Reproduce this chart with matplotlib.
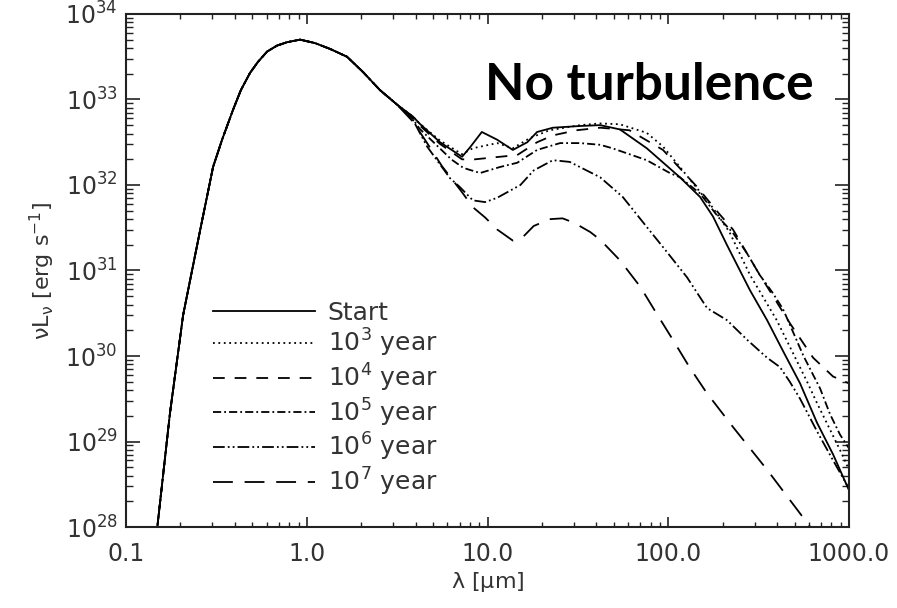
import matplotlib
matplotlib.use("Agg")
import matplotlib.pyplot as plt
import numpy as np

plt.rcParams['font.family'] = 'DejaVu Sans'
plt.rcParams['mathtext.fontset'] = 'dejavusans'
plt.rcParams['mathtext.default'] = 'regular'

# wavelength in micron, luminosity as log10(nu L_nu / erg s^-1)
# stellar part shared by every model
wav_common = [0.147, 0.149, 0.175, 0.207, 0.257, 0.303, 0.340, 0.391, 0.432,
              0.485, 0.537, 0.603, 0.684, 0.778, 0.918, 1.11, 1.35, 1.67,
              2.05, 2.54, 3.16]
lum_common = [27.85, 28.0, 29.33, 30.48, 31.47, 32.21, 32.53, 32.88, 33.11,
              33.31, 33.44, 33.56, 33.63, 33.67, 33.70, 33.66, 33.59, 33.50,
              33.32, 33.11, 32.94]

wav_start = [3.87, 4.2, 5.46, 7.23, 8.0, 9.3, 11.3, 13.8, 16.6, 18.8, 23, 32.5,
             42, 54, 76, 116, 150, 177, 211, 283, 352, 431, 536, 665, 816, 1000]
lum_start = [32.80, 32.72, 32.50, 32.33, 32.44, 32.62, 32.53, 32.41, 32.50,
             32.62, 32.67, 32.69, 32.70, 32.65, 32.43, 32.09, 31.86, 31.63,
             31.30, 30.77, 30.42, 30.06, 29.68, 29.22, 28.85, 28.43]

wav_1e3 = [3.87, 4.2, 5.46, 7.23, 8.3, 11.3, 13.8, 17.2, 22, 32.5, 42, 54, 76,
           93.5, 116, 177, 218, 283, 398, 586, 665, 892, 1000]
lum_1e3 = [32.80, 32.72, 32.52, 32.36, 32.43, 32.49, 32.43, 32.55, 32.64,
           32.70, 32.72, 32.71, 32.61, 32.45, 32.21, 31.73, 31.45, 30.95,
           30.42, 29.70, 29.45, 28.90, 28.67]

wav_1e4 = [3.87, 4.2, 5.46, 7.23, 8.5, 11.7, 14.6, 18.8, 23, 31, 42, 61, 93.5,
           144, 190, 228, 310, 472, 633, 816, 1000]
lum_1e4 = [32.79, 32.70, 32.48, 32.30, 32.30, 32.33, 32.35, 32.50, 32.58,
           32.64, 32.67, 32.64, 32.41, 31.98, 31.67, 31.48, 31.00, 30.38,
           29.98, 29.76, 29.68]

wav_1e5 = [3.87, 4.2, 5.5, 6.3, 7.35, 9.1, 11.7, 14.6, 18.8, 25.2, 32.5, 42, 49,
           76, 102, 116, 150, 190, 228, 273, 320, 375, 431, 472, 560, 692, 785,
           892, 1000]
lum_1e5 = [32.77, 32.66, 32.42, 32.30, 32.20, 32.14, 32.21, 32.26, 32.41,
           32.49, 32.49, 32.47, 32.43, 32.29, 32.14, 32.09, 31.90, 31.62,
           31.44, 31.20, 30.95, 30.75, 30.55, 30.36, 30.00, 29.62, 29.32,
           29.08, 28.92]

wav_1e6 = [3.87, 4.63, 6.2, 7.0, 8.3, 9.7, 11.3, 15.2, 18, 23, 28.5, 42, 56, 76,
           98, 127, 164, 211, 273, 352, 415, 470, 536, 665, 816, 1000]
lum_1e6 = [32.76, 32.45, 32.08, 31.98, 31.82, 31.80, 31.85, 32.00, 32.17,
           32.29, 32.27, 32.09, 31.86, 31.51, 31.22, 30.92, 30.56, 30.42,
           30.19, 29.98, 29.87, 29.70, 29.50, 29.12, 28.78, 28.45]

wav_1e7 = [3.87, 4.6, 5.6, 7.2, 8.3, 9.7, 11.3, 13.8, 15.5, 18, 22, 26, 30, 37,
           42, 54, 70, 86, 106, 131, 163, 228, 352, 586, 700]
lum_1e7 = [32.74, 32.50, 32.22, 31.92, 31.74, 31.62, 31.48, 31.35, 31.38,
           31.52, 31.60, 31.61, 31.56, 31.45, 31.36, 31.12, 30.81, 30.50,
           30.19, 29.87, 29.57, 29.17, 28.67, 28.05, 27.83]

labels = ['Start', '$10^3$ year', '$10^4$ year', '$10^5$ year',
          '$10^6$ year', '$10^7$ year']
styles = ['-',
          (0, (1, 2)),
          (0, (6.5, 5.5)),
          (0, (4.5, 1.7, 1, 1.7)),
          (0, (6.5, 1.7, 1, 1.7, 1, 1.7)),
          (0, (11, 6.5))]
tails = [(wav_start, lum_start), (wav_1e3, lum_1e3), (wav_1e4, lum_1e4),
         (wav_1e5, lum_1e5), (wav_1e6, lum_1e6), (wav_1e7, lum_1e7)]

fig = plt.figure(figsize=(8.97, 6.08), dpi=100)
ax = fig.add_axes([0.1405, 0.1332, 0.806, 0.8438])

for (wav, lum), ls, lab in zip(tails, styles, labels):
    x = np.concatenate([wav_common, wav])
    y = 10.0 ** np.concatenate([lum_common, lum])
    ax.plot(x, y, color='black', lw=1.3, linestyle=ls, label=lab)

ax.set_xscale('log')
ax.set_yscale('log')
ax.set_xlim(0.1, 1000)
ax.set_ylim(1e28, 1e34)

ax.set_xticks([0.1, 1, 10, 100, 1000])
ax.set_xticklabels(['0.1', '1.0', '10.0', '100.0', '1000.0'])
ax.set_yticks([10.0 ** k for k in range(28, 35)])
ax.set_yticklabels(['$10^{%d}$' % k for k in range(28, 35)])

ax.tick_params(which='both', direction='in', top=True, right=True,
               colors='#222222', labelcolor='#333333')
ax.tick_params(axis='x', which='major', length=7, width=1.2, labelsize=17, pad=11)
ax.tick_params(axis='x', which='minor', length=3.5, width=1.0)
ax.tick_params(axis='y', which='major', length=10, width=1.2, labelsize=17, pad=6)
ax.tick_params(axis='y', which='minor', length=5, width=1.0)
for sp in ax.spines.values():
    sp.set_linewidth(1.5)
    sp.set_color('#222222')

ax.set_xlabel(r'$\lambda$ [$\mu$m]', fontsize=16, color='#333333', labelpad=3)
ax.set_ylabel(r'$\nu$L$_\nu$ [erg s$^{-1}$]', fontsize=16, color='#333333', labelpad=6)

leg = ax.legend(loc='lower left', bbox_to_anchor=(0.106, 0.037), frameon=False,
                fontsize=18, handlelength=4.1, handletextpad=0.5,
                labelspacing=0.1, borderaxespad=0)
for t in leg.get_texts():
    t.set_color('#333333')

fig.text(0.541, 1 - 100 / 608, 'No turbulence', fontsize=37,
         fontweight='bold', family='Lato', va='baseline', ha='left')

fig.savefig('out.png', dpi=100)
